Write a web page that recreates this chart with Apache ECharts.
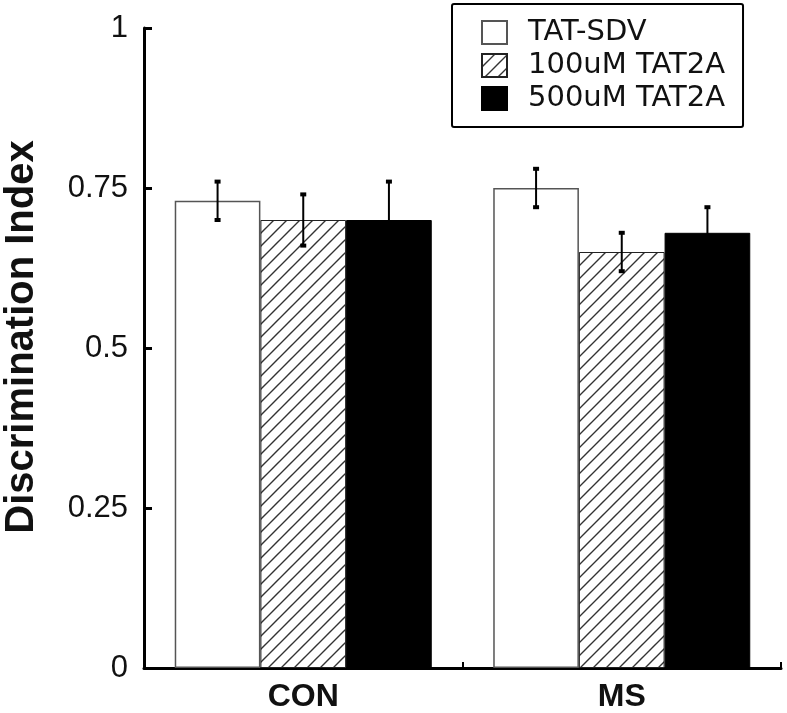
<!DOCTYPE html>
<html>
<head>
<meta charset="utf-8">
<script src="https://cdn.jsdelivr.net/npm/echarts@6/dist/echarts.min.js"></script>
<style>
html,body{margin:0;padding:0;background:#fff;}
#chart{width:787px;height:713px;}
</style>
</head>
<body>
<div id="chart"></div>
<script>
const categories = ['CON', 'MS'];
const seriesNames = ['TAT-SDV', '100uM TAT2A', '500uM TAT2A'];
const tatSdv = [0.73, 0.75];
const tatSdvErr = [0.03, 0.03];
const tat100 = [0.70, 0.65];
const tat100Err = [0.04, 0.03];
const tat500 = [0.70, 0.68];
const tat500Err = [0.06, 0.04];
const yTicks = [0, 0.25, 0.5, 0.75, 1];

const CAT_GAP = 0.193;

function makeHatch() {
  const s = 13;
  const c = document.createElement('canvas');
  c.width = s; c.height = s;
  const ctx = c.getContext('2d');
  ctx.fillStyle = '#fff';
  ctx.fillRect(0, 0, s, s);
  ctx.strokeStyle = '#333';
  ctx.lineWidth = 1.4;
  ctx.beginPath();
  ctx.moveTo(0, s); ctx.lineTo(s, 0);
  ctx.moveTo(-2, 2); ctx.lineTo(2, -2);
  ctx.moveTo(s - 2, s + 2); ctx.lineTo(s + 2, s - 2);
  ctx.stroke();
  return c;
}
const hatch = { image: makeHatch(), repeat: 'repeat' };

const means = [tatSdv, tat100, tat500];
const errs = [tatSdvErr, tat100Err, tat500Err];
const styles = [
  { color: '#fff', borderColor: '#555', borderWidth: 1.5 },
  { color: hatch, borderColor: '#222', borderWidth: 1 },
  { color: '#000', borderColor: '#000', borderWidth: 1 }
];

const barSeries = seriesNames.map((n, i) => ({
  name: n,
  type: 'bar',
  data: means[i],
  barGap: '0%',
  barCategoryGap: (CAT_GAP * 100) + '%',
  itemStyle: styles[i],
  emphasis: { disabled: true },
  z: 2
}));

const errSeries = seriesNames.map((n, i) => ({
  name: n + ' err',
  type: 'custom',
  data: categories.map((c, ci) => [ci, means[i][ci], errs[i][ci], i]),
  z: 5,
  renderItem: function (params, api) {
    const ci = api.value(0), v = api.value(1), e = api.value(2), si = api.value(3);
    const band = api.size([1, 0])[0];
    const bw = band * (1 - CAT_GAP) / 3;
    const c = api.coord([ci, v]);
    const x = c[0] + (si - 1) * bw;
    const top = api.coord([ci, v + e])[1];
    const bot = api.coord([ci, v - e])[1];
    const st = { stroke: '#000', lineWidth: 2 };
    const cap = { stroke: '#000', lineWidth: 4 };
    return {
      type: 'group',
      children: [
        { type: 'line', shape: { x1: x, y1: top, x2: x, y2: bot }, style: st },
        { type: 'line', shape: { x1: x - 3, y1: top, x2: x + 3, y2: top }, style: cap },
        { type: 'line', shape: { x1: x - 3, y1: bot, x2: x + 3, y2: bot }, style: cap }
      ]
    };
  }
}));

const chart = echarts.init(document.getElementById('chart'), null, { renderer: 'canvas' });
chart.setOption({
  animation: false,
  backgroundColor: '#fff',
  grid: { left: 144, right: 6, top: 28, bottom: 45, containLabel: false, outerBoundsMode: 'none' },
  legend: {
    data: seriesNames.map(n => ({ name: n, icon: 'rect' })),
    orient: 'vertical',
    left: 452,
    top: 4,
    padding: [14, 18, 14, 29],
    itemGap: 4,
    itemWidth: 25,
    itemHeight: 23,
    borderColor: '#000',
    borderWidth: 2,
    borderRadius: 2,
    selectedMode: false,
    textStyle: {
      fontFamily: 'DejaVu Sans',
      fontSize: 29,
      color: '#111',
      lineHeight: 24,
      padding: [0, 0, 0, 16]
    }
  },
  xAxis: {
    type: 'category',
    data: categories,
    axisLine: { show: true, lineStyle: { color: '#000', width: 3 } },
    axisTick: { show: true, inside: true, length: 6, lineStyle: { color: '#000', width: 2 } },
    axisLabel: { fontFamily: 'Liberation Sans', fontWeight: 'bold', fontSize: 32, color: '#111', margin: 13 },
    splitLine: { show: false }
  },
  yAxis: {
    type: 'value',
    min: 0,
    max: 1,
    interval: 0.25,
    name: 'Discrimination Index',
    nameLocation: 'middle',
    nameRotate: 90,
    nameGap: 102,
    nameTextStyle: { fontFamily: 'Liberation Sans', fontWeight: 'bold', fontSize: 40, color: '#111', padding: [0, 0, 0, 22] },
    axisLine: { show: true, lineStyle: { color: '#000', width: 3 } },
    axisTick: { show: true, inside: true, length: 8, lineStyle: { color: '#000', width: 3 } },
    axisLabel: {
      fontFamily: 'Liberation Sans', fontSize: 31, color: '#111', margin: 16,
      formatter: function (v) { return yTicks.indexOf(v) >= 0 ? String(v) : ''; }
    },
    splitLine: { show: false }
  },
  series: barSeries.concat(errSeries)
});
</script>
</body>
</html>
